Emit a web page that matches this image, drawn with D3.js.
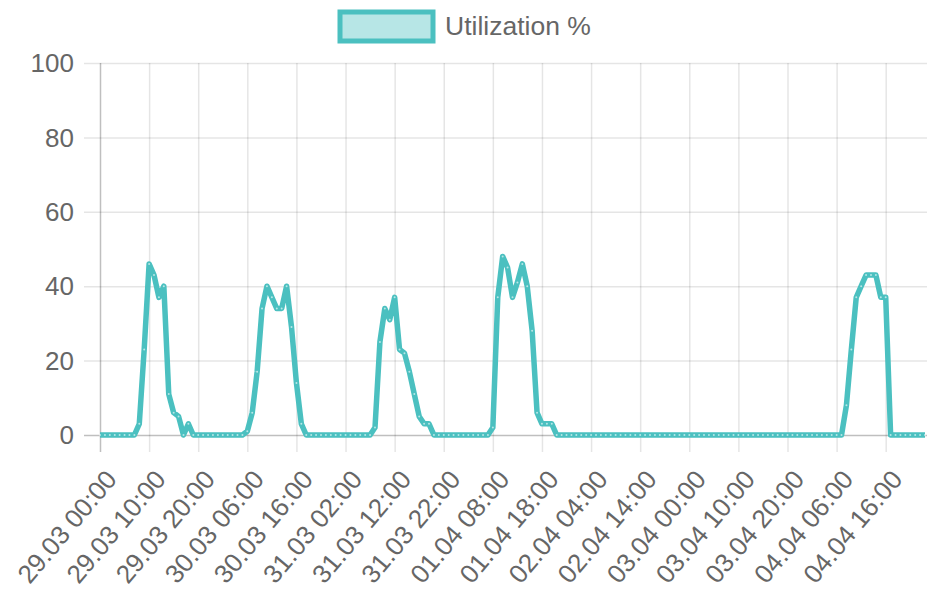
<!DOCTYPE html>
<html>
<head>
<meta charset="utf-8">
<title>Utilization</title>
<script src="https://d3js.org/d3.v7.min.js"></script>
<style>
  body { margin: 0; background: #fff; }
  text { font-family: "Liberation Sans", Arial, Helvetica, sans-serif; fill: #666; }
</style>
</head>
<body>
<script>
// hourly samples, starting 29.03 00:00
var startTime = new Date(2020, 2, 29, 0, 0);
var labelEvery = 10; // only every 10th hour gets a label

// utilization % per hour (one row per day)
var utilization = [
  0,0,0,0,0,0,0,0,3,23,46,43,37,40,11,6,5,0,3,0,0,0,0,0,
  0,0,0,0,0,0,1,6,17,34,40,37,34,34,40,29,14,3,0,0,0,0,0,0,
  0,0,0,0,0,0,0,0,2,25,34,31,37,23,22,17,11,5,3,3,0,0,0,0,
  0,0,0,0,0,0,0,0,2,37,48,45,37,41,46,40,28,6,3,3,3,0,0,0,
  0,0,0,0,0,0,0,0,0,0,0,0,0,0,0,0,0,0,0,0,0,0,0,0,
  0,0,0,0,0,0,0,0,0,0,0,0,0,0,0,0,0,0,0,0,0,0,0,0,
  0,0,0,0,0,0,0,0,8,23,37,40,43,43,43,37,37,0,0,0,0,0,0,0,
  0
];
var yTicks = [0, 20, 40, 60, 80, 100];
var seriesName = "Utilization %";

var width = 927, height = 593;
// plot area (note: "top" is taken by window.top, so use other names)
var plotLeft = 100, plotRight = 925, plotTop = 63, plotBottom = 435;
var teal = "rgb(75,192,192)";
var fontSize = "26px";

var fmt = d3.timeFormat("%d.%m %H:%M");
var labels = utilization.map(function(d, i) {
  return fmt(d3.timeHour.offset(startTime, i));
});

var x = d3.scalePoint()
  .domain(d3.range(utilization.length))
  .range([plotLeft, plotRight]);

var y = d3.scaleLinear()
  .domain([0, 100])
  .range([plotBottom, plotTop]);

var svg = d3.select("body").append("svg")
  .attr("width", width)
  .attr("height", height);

// horizontal grid + y labels
var yAxis = svg.append("g");
yAxis.selectAll("line")
  .data(yTicks)
  .enter().append("line")
  .attr("x1", 84).attr("x2", plotRight + 2)
  .attr("y1", function(d) { return y(d) + 0.5; })
  .attr("y2", function(d) { return y(d) + 0.5; })
  .attr("stroke", function(d) { return d === 0 ? "rgba(0,0,0,0.25)" : "rgba(0,0,0,0.1)"; })
  .attr("stroke-width", 1.5);

yAxis.selectAll("text")
  .data(yTicks)
  .enter().append("text")
  .attr("x", 74)
  .attr("y", function(d) { return y(d); })
  .attr("dy", "0.35em")
  .attr("text-anchor", "end")
  .style("font-size", fontSize)
  .text(function(d) { return d; });

// vertical grid + rotated x labels
var shown = x.domain().filter(function(i) { return i % labelEvery === 0; });
var xAxis = svg.append("g");
xAxis.selectAll("line")
  .data(shown)
  .enter().append("line")
  .attr("x1", function(i) { return x(i) + 0.5; })
  .attr("x2", function(i) { return x(i) + 0.5; })
  .attr("y1", plotTop).attr("y2", plotBottom + 17)
  .attr("stroke", function(i) { return i === 0 ? "rgba(0,0,0,0.25)" : "rgba(0,0,0,0.1)"; })
  .attr("stroke-width", 1.5);

xAxis.selectAll("text")
  .data(shown)
  .enter().append("text")
  .attr("transform", function(i) { return "translate(" + (x(i) + 11) + "," + 474 + ") rotate(-50)"; })
  .attr("text-anchor", "end")
  .attr("dy", "0.35em")
  .style("font-size", fontSize)
  .text(function(i) { return labels[i]; });

// the series line
var line = d3.line()
  .x(function(d, i) { return x(i); })
  .y(function(d) { return y(d); });

svg.append("path")
  .datum(utilization)
  .attr("d", line)
  .attr("fill", "none")
  .attr("stroke", teal)
  .attr("stroke-width", 5.5)
  .attr("stroke-linejoin", "round");

svg.append("g").selectAll("circle")
  .data(utilization)
  .enter().append("circle")
  .attr("cx", function(d, i) { return x(i); })
  .attr("cy", function(d) { return y(d); })
  .attr("r", 1)
  .attr("fill", "rgba(255,255,255,0.6)");

// legend
var legend = svg.append("g");
legend.append("rect")
  .attr("x", 340).attr("y", 12)
  .attr("width", 93).attr("height", 29)
  .attr("fill", "rgba(75,192,192,0.4)")
  .attr("stroke", teal)
  .attr("stroke-width", 5);
legend.append("text")
  .attr("x", 445).attr("y", 26)
  .attr("dy", "0.35em")
  .style("font-size", "26.5px")
  .text(seriesName);
</script>
</body>
</html>
